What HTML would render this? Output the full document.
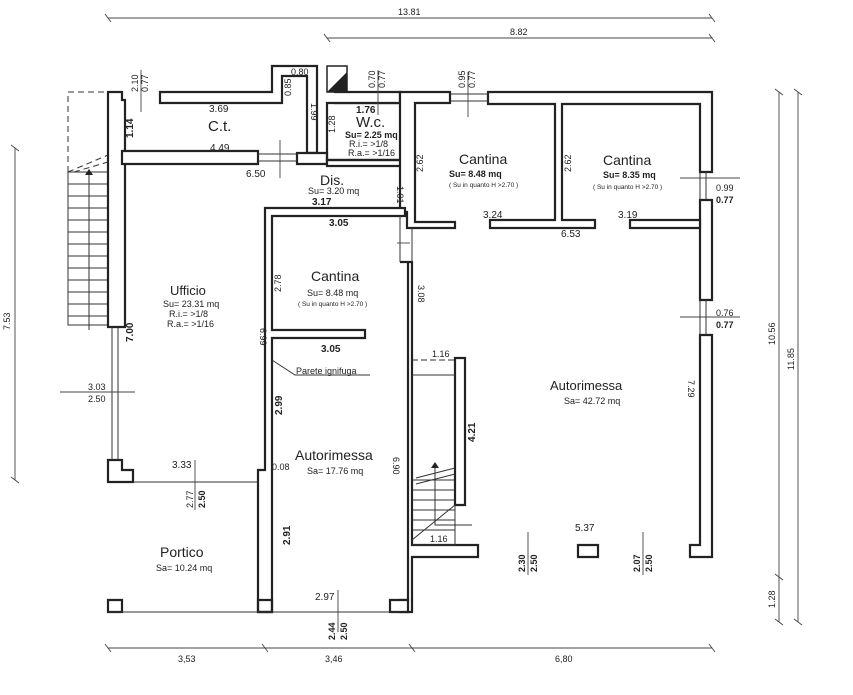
<!DOCTYPE html>
<html><head><meta charset="utf-8"><style>
html,body{margin:0;padding:0;background:#fff;}
svg{display:block;font-family:"Liberation Sans",sans-serif;}
.w{fill:#fff;stroke:#222;stroke-width:2.2}
.t{stroke:#333;stroke-width:1;fill:none}
.d{stroke:#444;stroke-width:0.9;fill:none}
text{fill:#222}
.s{font-size:9px}
.m{font-size:10px}
.n{font-size:14px}
</style></head><body>
<svg width="853" height="695" viewBox="0 0 853 695" xmlns="http://www.w3.org/2000/svg">
<rect width="853" height="695" fill="#fff"/>
<g class="d">
<line x1="108" y1="18" x2="712" y2="18"/><line x1="327" y1="38" x2="712" y2="38"/>
<line x1="108" y1="648" x2="712" y2="648"/>
<line x1="15" y1="148" x2="15" y2="480"/>
<line x1="779" y1="92" x2="779" y2="622"/><line x1="798" y1="92" x2="798" y2="622"/>
</g>
<g class="d" stroke-width="1">
<path d="M105 14l6 8M709 14l6 8M324 34l6 8M709 34l6 8M105 644l6 8M262 644l6 8M409 644l6 8M709 644l6 8M11 145l8 6M11 477l8 6M775 89l8 6M775 574l8 6M775 619l8 6M794 89l8 6M794 619l8 6"/>
</g>
<text class="s" x="398" y="15">13.81</text>
<text class="s" x="510" y="35">8.82</text>
<text class="s" x="178" y="662">3,53</text>
<text class="s" x="325" y="662">3,46</text>
<text class="s" x="555" y="662">6,80</text>
<text class="s" transform="translate(10,330) rotate(-90)">7.53</text>
<text class="s" transform="translate(775,345) rotate(-90)">10.56</text>
<text class="s" transform="translate(794,370) rotate(-90)">11.85</text>
<text class="s" transform="translate(775,608) rotate(-90)">1.28</text>

<path class="t" stroke-dasharray="6,4" d="M68 172V92H108M68 172L108 155M74 172L108 162"/>
<g class="t">
<rect x="68" y="172" width="40" height="153"/>
<path d="M68 184H108M68 196H108M68 208H108M68 220H108M68 232H108M68 244H108M68 256H108M68 268H108M68 280H108M68 292H108M68 304H108M68 316H108M89 172V330"/>
</g>
<path d="M85 175l4-6 4 6z" fill="#222"/>

<g class="w">
<path d="M108 92H122V100H125V327H108Z"/>
<path d="M160 92H272V66H317V153H307V76H282V103H160Z"/>
<path d="M122 151H258V164H122Z"/>
<path d="M297 153H327V164H297Z"/>
<path d="M327 160H405V166H327Z"/>
<path d="M327 103H405V160H327Z" fill="none"/>
<path d="M334 103H400V92H334"/>
<path d="M400 92H450V103H415V222H455V228H407V212H400Z"/>
<path d="M488 92H712V172H700V104H562V220H595V228H490V220H555V104H488Z"/>
<path d="M700 200H712V300H700Z"/>
<path d="M630 220H700V228H630Z"/>
<path d="M700 335H712V557H690V545H700Z"/>
<path d="M265 208H405V216H272V330H365V338H272V612H258V470H265Z"/>
<path d="M400 262H412V545H478V557H412V612H400V600H408V262Z" fill="#fff"/>
<path d="M455 358H465V505H455Z"/>
<path d="M578 545H598V557H578Z"/>
<path d="M108 460H122V470H133V482H108Z"/>
<path d="M108 600H122V612H108Z"/>
<path d="M258 600H272V612H258Z" fill="none"/>
<path d="M390 600H408V612H390Z"/>
</g>
<g class="t">
<path d="M112 327V460M118 327V460"/>
<path d="M133 482H258M108 612H400"/>
<path d="M400 216V262M412 228V262" />
<path d="M700 172V200M706 172V200M700 300V335M706 300V335"/>
<path d="M450 94H488M450 101H488"/>
<path d="M258 154H297M258 161H297"/>
<path d="M412 360H455" stroke-dasharray="6,3"/>
<path d="M412 375H455M412 480H455M412 490H455M412 500H455M412 510H455M412 520H455M412 530H455M412 545H455" />
<path d="M435 465V525H472M412 540L455 505M416 478L455 468M416 484L455 474" />
<path d="M455 505V545"/>
<path d="M272 360L295 375H370"/>
</g>
<path d="M431 468l4-6 4 6z" fill="#222"/>
<path d="M327 92L347 72V92Z" fill="#222"/>
<rect x="327" y="66" width="20" height="26" fill="none" stroke="#222" stroke-width="1.5"/>

<g class="d">
<line x1="141" y1="70" x2="141" y2="112"/>
<line x1="378" y1="70" x2="378" y2="115"/>
<line x1="468" y1="72" x2="468" y2="117"/>
<line x1="280" y1="140" x2="280" y2="178"/>
<line x1="195" y1="460" x2="195" y2="510"/>
<line x1="60" y1="392" x2="135" y2="392"/>
<line x1="338" y1="590" x2="338" y2="632"/>
<line x1="528" y1="532" x2="528" y2="575"/>
<line x1="643" y1="532" x2="643" y2="575"/>
<line x1="680" y1="178" x2="740" y2="178"/>
<line x1="680" y1="317" x2="740" y2="317"/>
<line x1="397" y1="243" x2="410" y2="243"/>
</g>
<text class="s" transform="translate(138,92) rotate(-90)">2.10</text>
<text class="s" transform="translate(148,92) rotate(-90)">0.77</text>
<text class="s" transform="translate(375,88) rotate(-90)">0.70</text>
<text class="s" transform="translate(385,88) rotate(-90)">0.77</text>
<text class="s" transform="translate(465,88) rotate(-90)">0.95</text>
<text class="s" transform="translate(475,88) rotate(-90)">0.77</text>
<text class="s" x="291" y="75">0.80</text>
<text class="s" transform="translate(291,96) rotate(-90)">0.85</text>
<text class="s" transform="translate(311,103) rotate(90)">1.99</text>
<text class="m" font-weight="bold" transform="translate(133,138) rotate(-90)">1.14</text>
<text class="m" x="209" y="112">3.69</text>
<text x="208" y="131" font-size="15">C.t.</text>
<text class="m" x="210" y="151">4.49</text>
<text class="m" x="246" y="177">6.50</text>
<text class="m" font-weight="bold" x="356" y="113">1.76</text>
<text x="356" y="127" font-size="15">W.c.</text>
<text class="s" font-weight="bold" x="345" y="138">Su= 2.25 mq</text>
<text class="s" x="349" y="147">R.i.= &gt;1/8</text>
<text class="s" x="348" y="156">R.a.= &gt;1/16</text>
<text class="s" transform="translate(335,133) rotate(-90)">1.28</text>
<text x="320" y="185" font-size="14">Dis.</text>
<text class="s" x="308" y="194">Su= 3.20 mq</text>
<text class="m" font-weight="bold" x="312" y="205">3.17</text>
<text class="s" transform="translate(397,186) rotate(90)">1.01</text>
<text class="m" font-weight="bold" x="329" y="226">3.05</text>
<text class="s" transform="translate(423,172) rotate(-90)">2.62</text>
<text class="n" x="459" y="164">Cantina</text>
<text class="s" font-weight="bold" x="449" y="177">Su= 8.48 mq</text>
<text x="449" y="187" font-size="6.5">( Su in quanto H &gt;2.70 )</text>
<text class="m" x="483" y="218">3.24</text>
<text class="m" x="561" y="237">6.53</text>
<text class="s" transform="translate(571,172) rotate(-90)">2.62</text>
<text class="n" x="603" y="165">Cantina</text>
<text class="s" font-weight="bold" x="603" y="178">Su= 8.35 mq</text>
<text x="593" y="189" font-size="6.5">( Su in quanto H &gt;2.70 )</text>
<text class="m" x="618" y="218">3.19</text>
<text class="s" x="716" y="191">0.99</text>
<text class="s" font-weight="bold" x="716" y="203">0.77</text>
<text class="s" x="716" y="316">0.76</text>
<text class="s" font-weight="bold" x="716" y="328">0.77</text>
<text class="n" x="311" y="281">Cantina</text>
<text class="s" x="307" y="296">Su= 8.48 mq</text>
<text x="298" y="306" font-size="6.5">( Su in quanto H &gt;2.70 )</text>
<text class="s" transform="translate(281,292) rotate(-90)">2.78</text>
<text class="s" transform="translate(260,328) rotate(90)">6.99</text>
<text class="s" transform="translate(418,285) rotate(90)">3.08</text>
<text class="m" font-weight="bold" x="321" y="352">3.05</text>
<text class="s" x="296" y="374">Parete ignifuga</text>
<text class="m" font-weight="bold" transform="translate(282,415) rotate(-90)">2.99</text>
<text class="s" x="272" y="470">0.08</text>
<text class="n" x="295" y="460">Autorimessa</text>
<text class="s" x="307" y="474">Sa= 17.76 mq</text>
<text class="s" transform="translate(393,457) rotate(90)">6.90</text>
<text class="m" font-weight="bold" transform="translate(290,545) rotate(-90)">2.91</text>
<text class="m" x="315" y="600">2.97</text>
<text class="s" font-weight="bold" transform="translate(335,640) rotate(-90)">2.44</text>
<text class="s" font-weight="bold" transform="translate(347,640) rotate(-90)">2.50</text>
<text x="170" y="295" font-size="13">Ufficio</text>
<text class="s" x="163" y="307">Su= 23.31 mq</text>
<text class="s" x="169" y="317">R.i.= &gt;1/8</text>
<text class="s" x="167" y="327">R.a.= &gt;1/16</text>
<text class="m" font-weight="bold" transform="translate(133,342) rotate(-90)">7.00</text>
<text class="s" x="88" y="390">3.03</text>
<text class="s" x="88" y="402">2.50</text>
<text class="m" x="172" y="468">3.33</text>
<text class="s" transform="translate(193,508) rotate(-90)">2.77</text>
<text class="s" font-weight="bold" transform="translate(205,508) rotate(-90)">2.50</text>
<text x="160" y="557" font-size="14">Portico</text>
<text class="s" x="156" y="571">Sa= 10.24 mq</text>
<text class="s" x="432" y="357">1.16</text>
<text class="m" font-weight="bold" transform="translate(475,442) rotate(-90)">4.21</text>
<text class="s" x="430" y="542">1.16</text>
<text x="550" y="390" font-size="13">Autorimessa</text>
<text class="s" x="564" y="404">Sa= 42.72 mq</text>
<text class="s" transform="translate(688,380) rotate(90)">7.29</text>
<text class="m" x="575" y="531">5.37</text>
<text class="s" font-weight="bold" transform="translate(525,572) rotate(-90)">2.30</text>
<text class="s" font-weight="bold" transform="translate(537,572) rotate(-90)">2.50</text>
<text class="s" font-weight="bold" transform="translate(640,572) rotate(-90)">2.07</text>
<text class="s" font-weight="bold" transform="translate(652,572) rotate(-90)">2.50</text>
</svg>
</body></html>
